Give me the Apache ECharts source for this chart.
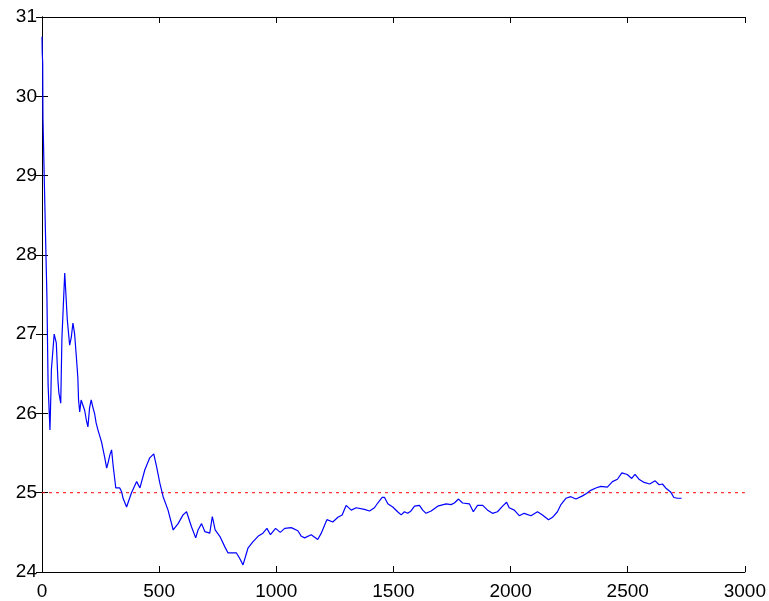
<!DOCTYPE html>
<html>
<head>
<meta charset="utf-8">
<script src="https://cdn.jsdelivr.net/npm/echarts@6/dist/echarts.min.js"></script>
<style>
html,body{margin:0;padding:0;background:#fff;}
#chart{width:769px;height:601px;}
</style>
</head>
<body>
<div id="chart"></div>
<script>
// Sample positions (x) and running values (y)
const sampleX = [0,1,3,4,6,9,14,21,26,34,38,40,52,61,68,72,80,85,97,101,108,118,125,132,139,146,153,156,161,167,175,182,189,196,203,210,217,225,231,239,247,254,261,268,276,283,290,297,304,311,315,332,340,346,361,382,404,418,439,460,477,489,503,517,538,560,581,602,617,638,656,666,681,695,716,727,739,759,780,794,830,844,858,879,900,922,943,960,975,997,1017,1036,1064,1092,1107,1121,1149,1177,1192,1206,1216,1241,1263,1281,1298,1320,1341,1376,1398,1419,1433,1452,1462,1476,1497,1518,1533,1547,1561,1575,1590,1611,1625,1639,1661,1689,1725,1746,1760,1778,1795,1824,1841,1859,1881,1902,1923,1944,1966,1983,1994,2016,2037,2058,2087,2115,2136,2162,2179,2200,2215,2236,2257,2279,2307,2324,2342,2364,2385,2413,2435,2456,2475,2498,2517,2531,2548,2570,2594,2617,2634,2648,2662,2683,2697,2712,2730];
const sampleY = [30.75,30.55,30.42,29.74,29.74,29.05,28.38,27.47,26.36,25.79,26.26,26.55,27.0,26.89,26.42,26.26,26.13,26.95,27.77,27.56,27.18,26.86,26.96,27.14,27.01,26.74,26.45,26.17,26.02,26.17,26.19,26.04,25.92,25.83,26.07,26.17,26.08,25.99,25.88,25.79,25.71,25.64,25.54,25.44,25.31,25.39,25.48,25.54,25.33,25.16,25.06,25.06,25.01,24.93,24.82,25.0,25.14,25.06,25.29,25.44,25.49,25.33,25.12,24.95,24.78,24.53,24.61,24.72,24.76,24.57,24.43,24.53,24.61,24.51,24.49,24.70,24.53,24.45,24.32,24.24,24.24,24.17,24.09,24.30,24.38,24.45,24.49,24.55,24.47,24.55,24.50,24.55,24.56,24.52,24.45,24.43,24.47,24.41,24.49,24.59,24.66,24.63,24.69,24.72,24.84,24.78,24.81,24.79,24.77,24.81,24.87,24.94,24.94,24.86,24.82,24.76,24.72,24.76,24.74,24.77,24.83,24.84,24.78,24.74,24.77,24.83,24.86,24.85,24.87,24.92,24.87,24.86,24.76,24.84,24.84,24.78,24.74,24.76,24.83,24.88,24.81,24.78,24.71,24.74,24.71,24.76,24.72,24.66,24.69,24.76,24.85,24.93,24.95,24.92,24.96,24.99,25.03,25.06,25.08,25.07,25.14,25.17,25.25,25.23,25.18,25.23,25.17,25.13,25.11,25.15,25.10,25.11,25.06,25.01,24.94,24.93,24.93];
const refLevel = 25;
const xRange = [0, 3000];
const xTicks = [0, 500, 1000, 1500, 2000, 2500, 3000];
const yTicks = [24, 25, 26, 27, 28, 29, 30, 31];

const chart = echarts.init(document.getElementById('chart'), null, {renderer: 'canvas'});
const lineData = sampleX.map((x, i) => [x, sampleY[i]]);
const refData = xRange.map(x => [x, refLevel]);

const font = {color: '#000', fontFamily: '"Liberation Sans Narrow", "Liberation Sans", Arial, sans-serif', fontSize: 19};
const axLine = {show: true, lineStyle: {color: '#000', width: 1}};
const tick = {show: true, inside: true, length: 6, lineStyle: {color: '#000', width: 1}};
const plain = v => String(v);

function xAx(pos, showLabel) {
  return {
    type: 'value', position: pos, min: xTicks[0], max: xTicks[xTicks.length - 1], interval: 500,
    axisLine: axLine, axisTick: tick, splitLine: {show: false},
    axisLabel: Object.assign({show: showLabel, margin: 10, formatter: plain}, font)
  };
}
function yAx(pos, showLabel) {
  return {
    type: 'value', position: pos, min: yTicks[0], max: yTicks[yTicks.length - 1], interval: 1,
    axisLine: axLine, axisTick: tick, splitLine: {show: false},
    axisLabel: Object.assign({show: showLabel, margin: 5, formatter: plain}, font)
  };
}

chart.setOption({
  backgroundColor: '#fff',
  animation: false,
  grid: {left: 42, right: 23, top: 17, bottom: 29, containLabel: false},
  xAxis: [xAx('bottom', true), xAx('top', false)],
  yAxis: [yAx('left', true), yAx('right', false)],
  series: [
    {
      type: 'line', data: refData, xAxisIndex: 0, yAxisIndex: 0,
      showSymbol: false, silent: true,
      lineStyle: {color: '#ff0000', width: 1, type: [3, 4]}
    },
    {
      type: 'line', data: lineData, xAxisIndex: 0, yAxisIndex: 0,
      showSymbol: false, silent: true,
      lineStyle: {color: '#0000ff', width: 1.2}
    }
  ]
});
</script>
</body>
</html>
